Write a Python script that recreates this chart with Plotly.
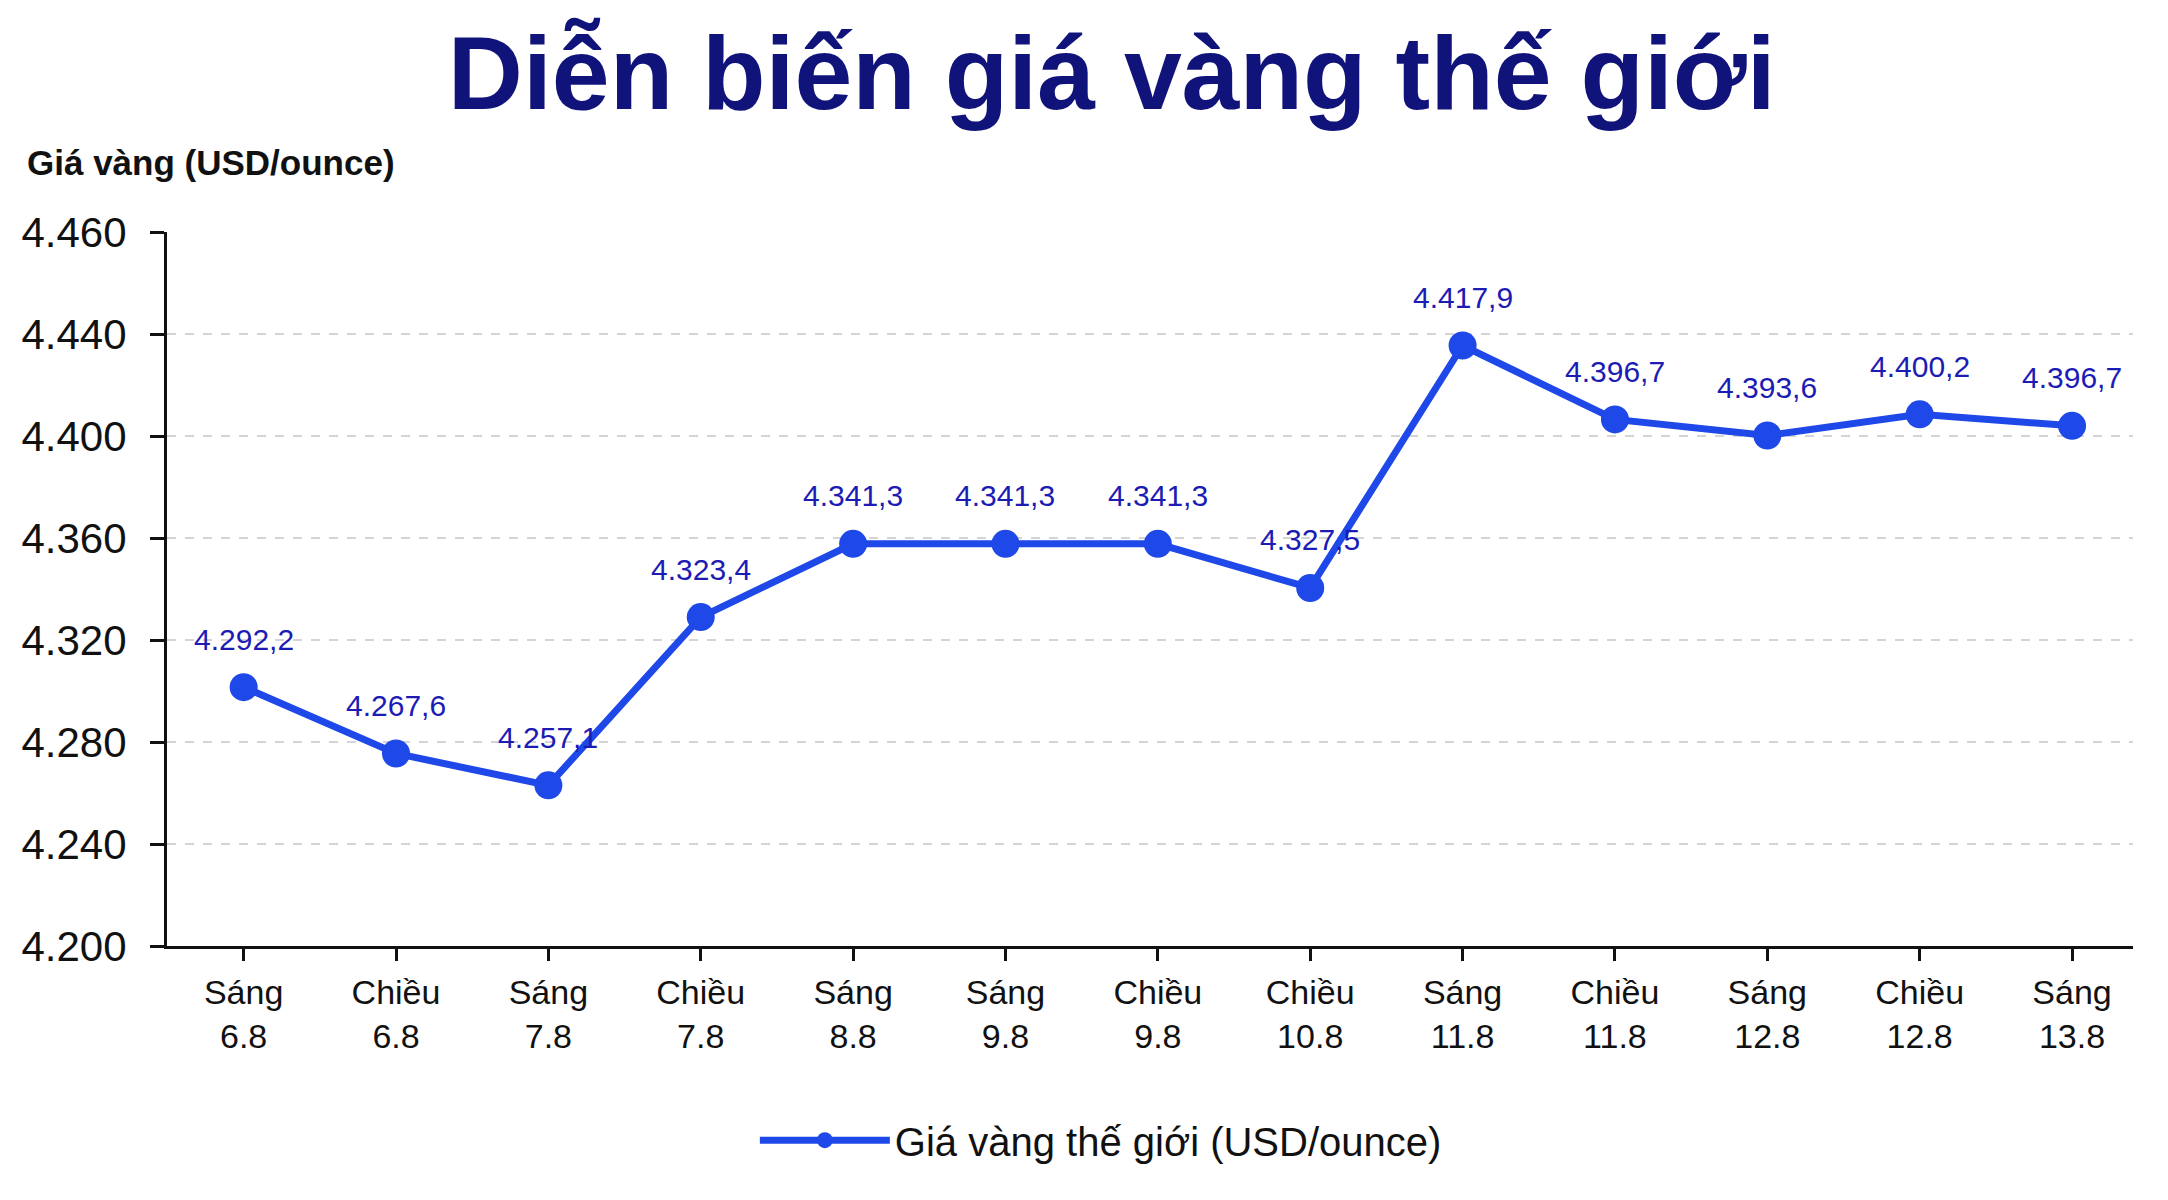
import plotly.graph_objects as go

# categories on the x axis
sessions = ["Sáng<br>6.8", "Chiều<br>6.8", "Sáng<br>7.8", "Chiều<br>7.8", "Sáng<br>8.8",
            "Sáng<br>9.8", "Chiều<br>9.8", "Chiều<br>10.8", "Sáng<br>11.8", "Chiều<br>11.8",
            "Sáng<br>12.8", "Chiều<br>12.8", "Sáng<br>13.8"]

# where the points sit on the drawn axis
price_drawn = [4301.5, 4275.5, 4263, 4329, 4357.7, 4357.7, 4357.7,
               4340.4, 4435.5, 4406.5, 4400.2, 4408.5, 4404]

# the value labels printed above the points
price_labels = ["4.292,2", "4.267,6", "4.257,1", "4.323,4", "4.341,3", "4.341,3", "4.341,3",
                "4.327,5", "4.417,9", "4.396,7", "4.393,6", "4.400,2", "4.396,7"]

# y axis ticks as printed (top one reads 4.460)
y_tickvals = [4200, 4240, 4280, 4320, 4360, 4400, 4440, 4480]
y_ticktext = ["4.200", "4.240", "4.280", "4.320", "4.360", "4.400", "4.440", "4.460"]

FONT = "Liberation Sans, Arial, sans-serif"
LINE_BLUE = "#1f48e8"
LABEL_BLUE = "#1c1cb4"

xs = list(range(len(sessions)))

fig = go.Figure()
fig.add_trace(go.Scatter(
    x=xs, y=price_drawn, mode="lines+markers",
    name="Giá vàng thế giới (USD/ounce)",
    line=dict(color=LINE_BLUE, width=7),
    marker=dict(color=LINE_BLUE, size=28),
    hoverinfo="skip",
))

for x, y, t in zip(xs, price_drawn, price_labels):
    fig.add_annotation(x=x, y=y, text=t, showarrow=False, yshift=48,
                       font=dict(family=FONT, size=30, color=LABEL_BLUE))

fig.add_annotation(xref="paper", yref="paper", x=-0.0722, y=1.097,
                   xanchor="left", yanchor="middle", showarrow=False,
                   text="<b>Giá vàng (USD/ounce)</b>",
                   font=dict(family=FONT, size=35, color="#111111"))

# page body has an 8px margin, so the figure is 8px smaller than the window
fig.update_layout(
    width=2160, height=1192,
    paper_bgcolor="white", plot_bgcolor="white",
    margin=dict(l=159, r=35, t=224, b=254, autoexpand=False),
    title=dict(text="<b>Diễn biến giá vàng thế giới</b>", x=0.511, xanchor="center",
               y=0.946, yanchor="middle",
               font=dict(family=FONT, size=104, color="#10137a")),
    showlegend=True,
    legend=dict(orientation="h", x=0.475, xanchor="center", y=-0.272, yanchor="middle",
                font=dict(family=FONT, size=40, color="#111111"), itemwidth=130),
    xaxis=dict(
        tickvals=xs, ticktext=sessions, range=[-0.503, 12.4],
        showline=True, linecolor="#111111", linewidth=3,
        ticks="outside", ticklen=12, tickwidth=3, tickcolor="#111111",
        showgrid=False, zeroline=False, automargin=False,
        tickfont=dict(family=FONT, size=34, color="#111111"),
        ticklabelstandoff=2,
    ),
    yaxis=dict(
        range=[4200, 4480], tickvals=y_tickvals, ticktext=y_ticktext,
        showline=True, linecolor="#111111", linewidth=3,
        ticks="outside", ticklen=14, tickwidth=3, tickcolor="#111111",
        showgrid=True, gridcolor="#d4d4d4", gridwidth=2, griddash="dash",
        zeroline=False, automargin=False,
        tickfont=dict(family=FONT, size=42, color="#111111"),
        ticklabelstandoff=15,
    ),
)

fig.write_html("out.html")
